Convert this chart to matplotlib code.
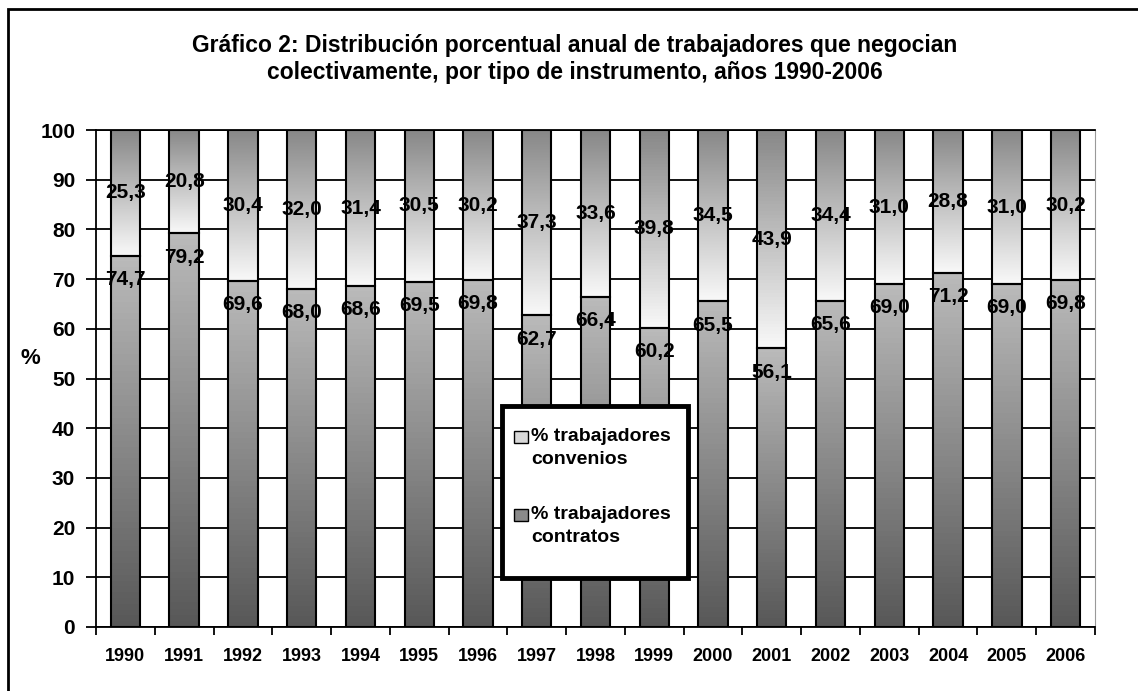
import numpy as np
import matplotlib.pyplot as plt
from matplotlib.patches import Rectangle

# datos (porcentajes por año)
years = [str(y) for y in range(1990, 2007)]
contratos = [74.7, 79.2, 69.6, 68.0, 68.6, 69.5, 69.8, 62.7, 66.4, 60.2,
             65.5, 56.1, 65.6, 69.0, 71.2, 69.0, 69.8]
convenios = [25.3, 20.8, 30.4, 32.0, 31.4, 30.5, 30.2, 37.3, 33.6, 39.8,
             34.5, 43.9, 34.4, 31.0, 28.8, 31.0, 30.2]
leyenda = ['% trabajadores\nconvenios', '% trabajadores\ncontratos']

plt.rcParams['font.family'] = ['Liberation Sans', 'DejaVu Sans']
plt.rcParams['font.weight'] = 'bold'

W, H = 1138, 691
fig = plt.figure(figsize=(W / 100, H / 100), dpi=100)
ax = fig.add_axes([96 / W, 1 - 627 / H, 999 / W, 497 / H])


def px(x, y):
    # pixeles (desde arriba a la izquierda) -> fraccion de figura
    return x / W, 1 - y / H


def grad(v0, v1, n=64):
    # degradado vertical de gris v0 (abajo) a v1 (arriba)
    t = np.linspace(0, 1, n)[:, None]
    c = (v0 + (v1 - v0) * t) / 255.0
    return np.repeat(c[:, :, None], 3, axis=2)


x = np.arange(len(years))
w = 0.5

for i in x:
    ax.imshow(grad(88, 186), extent=[i - w / 2, i + w / 2, 0, contratos[i]],
              origin='lower', aspect='auto', zorder=2)
    ax.imshow(grad(248, 136), extent=[i - w / 2, i + w / 2, contratos[i],
                                      contratos[i] + convenios[i]],
              origin='lower', aspect='auto', zorder=2)

ax.bar(x, contratos, w, fill=False, edgecolor='black', lw=1.5, zorder=3)
ax.bar(x, convenios, w, bottom=contratos, fill=False, edgecolor='black',
       lw=1.5, zorder=3)

for i in x:
    ax.text(i, 100 - convenios[i] / 2, f"{convenios[i]:.1f}".replace('.', ','),
            ha='center', va='center', fontsize=15, fontweight='bold', zorder=5)
    ax.text(i, contratos[i] - 4.8, f"{contratos[i]:.1f}".replace('.', ','),
            ha='center', va='center', fontsize=15, fontweight='bold', zorder=5)

ax.set_xlim(-0.5, len(years) - 0.5)
ax.set_ylim(0, 100)
ax.set_axisbelow(True)
ax.yaxis.grid(True, color='black', lw=1.3)

ax.set_xticks(x, years)
ax.set_xticks(np.arange(-0.5, len(years), 1), minor=True)
ax.tick_params(axis='x', which='major', length=0, pad=15, labelsize=13)
ax.tick_params(axis='x', which='minor', length=6, width=1.3, direction='out')
ax.set_yticks(range(0, 101, 10))
ax.tick_params(axis='y', length=7, width=1.3, pad=8, labelsize=15)

for s in ['left', 'bottom', 'top']:
    ax.spines[s].set_linewidth(1.3)
ax.spines['right'].set_color('#999999')

fig.text(*px(30, 358), '%', ha='center', va='center', fontsize=16,
         fontweight='bold')

# leyenda dibujada a mano
x0, y0 = px(502, 578)
x1, y1 = px(688, 406)
fig.add_artist(Rectangle((x0, y0), x1 - x0, y1 - y0, transform=fig.transFigure,
                         facecolor='white', edgecolor='black', lw=3.5, zorder=6))
for k, (col, ys) in enumerate([('#d8d8d8', 437), ('#8a8a8a', 515)]):
    sx, sy = px(514, ys + 6)
    fig.add_artist(Rectangle((sx, sy), 14 / W, 12 / H, transform=fig.transFigure,
                             facecolor=col, edgecolor='black', lw=1, zorder=7))
    fig.text(*px(531, ys - 9), leyenda[k], ha='left', va='top', fontsize=14,
             fontweight='bold', linespacing=1.45, zorder=7)

fig.text(0.505, 1 - 59 / H,
         "Gráfico 2: Distribución porcentual anual de trabajadores que negocian\n"
         "colectivamente, por tipo de instrumento, años 1990-2006",
         ha='center', va='center', fontsize=16.5, fontweight='bold',
         linespacing=1.25)

# marco exterior
fig.add_artist(Rectangle((8 / W, -0.02), 1.1, 1 - 9 / H + 0.02,
                         transform=fig.transFigure, fill=False, lw=2,
                         edgecolor='black'))

fig.savefig('out.png', dpi=100)
